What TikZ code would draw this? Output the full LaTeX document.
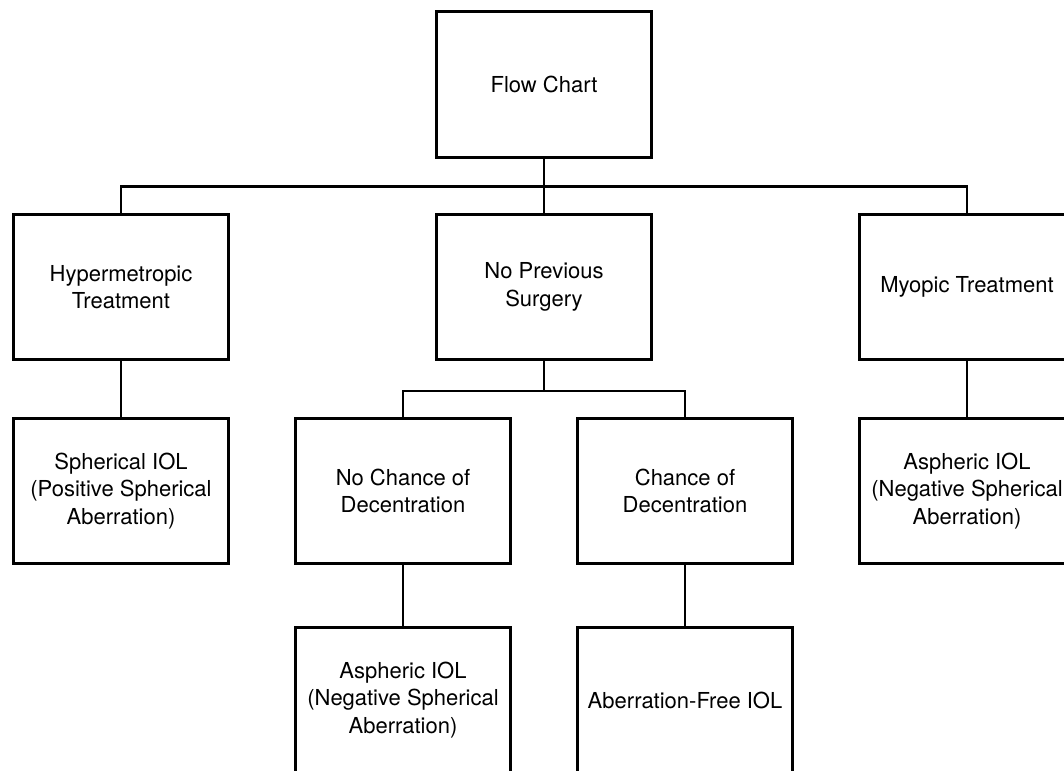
\documentclass[tikz,border=0pt]{standalone}
\usepackage{fontspec}
\setmainfont{TeX Gyre Heros}
\begin{document}
\begin{tikzpicture}[x=1pt,y=1pt,
  box/.style={draw=black, line width=2.6pt, fill=white, minimum width=215.5pt, minimum height=145.5pt, align=center, inner sep=2pt, font=\fontsize{22}{27.5}\selectfont},
  link/.style={draw=black, line width=2.3pt}]
\useasboundingbox (0,0) rectangle (1064,-770);
\clip (0,0) rectangle (1064,-770);
\node[box] (top) at (544,-84.5) {Flow Chart};
\node[box] (hyp) at (121,-287) {Hypermetropic\\Treatment};
\node[box] (nps) at (544,-287) {No Previous\\Surgery};
\node[box] (myo) at (967,-287) {Myopic Treatment};
\node[box] (sph) at (121,-491) {Spherical IOL\\(Positive Spherical\\Aberration)};
\node[box] (ncd) at (403,-491) {No Chance of\\Decentration};
\node[box] (cd) at (685,-491) {Chance of\\Decentration};
\node[box] (asr) at (967,-491) {Aspheric IOL\\(Negative Spherical\\Aberration)};
\node[box] (asl) at (403,-700) {Aspheric IOL\\(Negative Spherical\\Aberration)};
\node[box] (afi) at (685,-700) {Aberration-Free IOL};
\coordinate (b1) at (544,-186.5);
\coordinate (b2) at (544,-391);
\draw[link] (top.south) -- (b1);
\draw[link] (b1) -- (nps.north);
\draw[link] (hyp.north) |- (b1) -| (myo.north);
\draw[link] (hyp.south) -- (sph.north);
\draw[link] (myo.south) -- (asr.north);
\draw[link] (nps.south) -- (b2);
\draw[link] (ncd.north) |- (b2) -| (cd.north);
\draw[link] (ncd.south) -- (asl.north);
\draw[link] (cd.south) -- (afi.north);
\end{tikzpicture}
\end{document}
